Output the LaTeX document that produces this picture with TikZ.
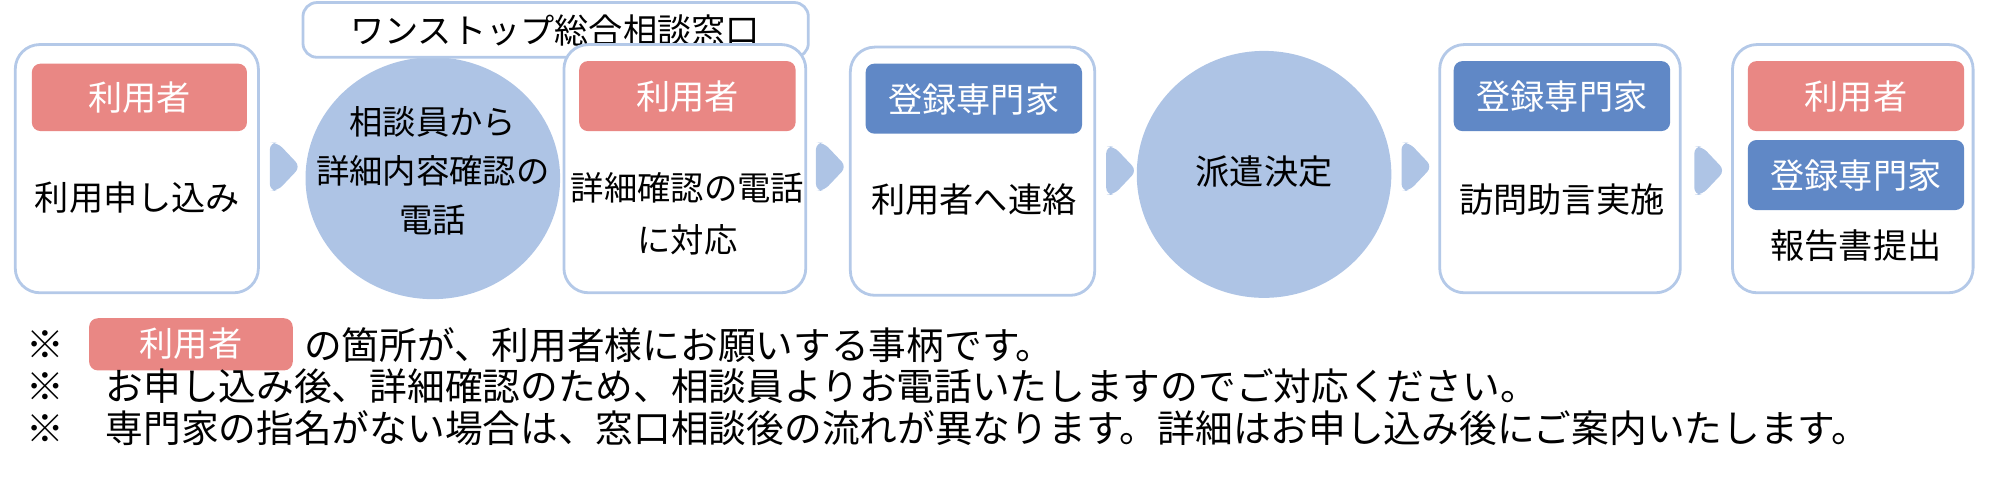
\documentclass[tikz,border=0pt]{standalone}
\usepackage{fontspec}
\setmainfont{Noto Sans CJK JP}
\begin{document}
\begin{tikzpicture}[x=0.02551cm,y=-0.02551cm,
  box/.style={draw=bord,line width=1.6pt,rounded corners=14pt,fill=white},
  tagt/.style={text=white,font=\fontsize{19.5}{22}\selectfont},
  txt/.style={font=\fontsize{19.5}{26}\selectfont,align=center},
  chev/.style={fill=lightc,rounded corners=4pt},
  note/.style={font=\fontsize{21.5}{24}\selectfont,anchor=west}]
\definecolor{pinkc}{HTML}{E98784}
\definecolor{bluec}{HTML}{6088C6}
\definecolor{lightc}{HTML}{AEC4E5}
\definecolor{bord}{HTML}{B4C9E8}
\useasboundingbox (0,0) rectangle (1568,380);
% boxes
\draw[box] (12,35) rectangle (203,230);
\fill[pinkc,rounded corners=5pt] (25,50) rectangle (194,103);
\node[tagt] (t1) at (109.5,76.5) {利用者};
\node[txt] (b1) at (108,155) {利用申し込み};
\fill[lightc] (340,140) ellipse [x radius=100,y radius=95];
\node[txt,font=\fontsize{19}{28}\selectfont] (c1t) at (340,134) {相談員から\\詳細内容確認の\\電話};
\draw[box,rounded corners=8pt] (238,2) rectangle (635,45);
\node[font=\fontsize{19.5}{22}\selectfont] (top) at (436,24) {ワンストップ総合相談窓口};
\draw[box] (443,35) rectangle (633,230);
\fill[pinkc,rounded corners=5pt] (455,48) rectangle (625,103);
\node[tagt] (t3) at (540,76) {利用者};
\node[txt,font=\fontsize{19}{30}\selectfont] (b3) at (540,168) {詳細確認の電話\\に対応};
\draw[box] (668,37) rectangle (860,232);
\fill[bluec,rounded corners=5pt] (680,50) rectangle (850,105);
\node[tagt] (t4) at (765,78) {登録専門家};
\node[txt] (b4) at (765,157) {利用者へ連絡};
\fill[lightc] (993,137) ellipse [x radius=100,y radius=97];
\node[txt] (c2) at (993,135) {派遣決定};
\draw[box] (1131,35) rectangle (1320,230);
\fill[bluec,rounded corners=5pt] (1142,48) rectangle (1312,103);
\node[tagt] (t6) at (1227,76) {登録専門家};
\node[txt] (b6) at (1227,157) {訪問助言実施};
\draw[box] (1361,35) rectangle (1550,230);
\fill[pinkc,rounded corners=5pt] (1373,48) rectangle (1543,103);
\node[tagt] (t7a) at (1458,76) {利用者};
\fill[bluec,rounded corners=5pt] (1373,110) rectangle (1543,165);
\node[tagt] (t7b) at (1458,138) {登録専門家};
\node[txt] (b7) at (1458,193) {報告書提出};
% chevrons
\foreach \x/\y in {212/131,641/131,869/134,1101/131,1331/134}{
  \fill[chev] (\x,\y-19) -- (\x+6,\y-19) -- (\x+24,\y) -- (\x+6,\y+19) -- (\x,\y+19) -- cycle;}
% notes
\node[note] (n1) at (16,271) {※};
\fill[pinkc,rounded corners=5pt] (70,250) rectangle (230,291);
\node[text=white,font=\fontsize{19.5}{22}\selectfont] (nt) at (150,270) {利用者};
\node[note] (n1t) at (234,271) {の箇所が、利用者様にお願いする事柄です。};
\node[note] (n2) at (16,303) {※\hspace{1.1em}お申し込み後、詳細確認のため、相談員よりお電話いたしますのでご対応ください。};
\node[note] (n3) at (16,336) {※\hspace{1.1em}専門家の指名がない場合は、窓口相談後の流れが異なります。詳細はお申し込み後にご案内いたします。};
\end{tikzpicture}
\end{document}
